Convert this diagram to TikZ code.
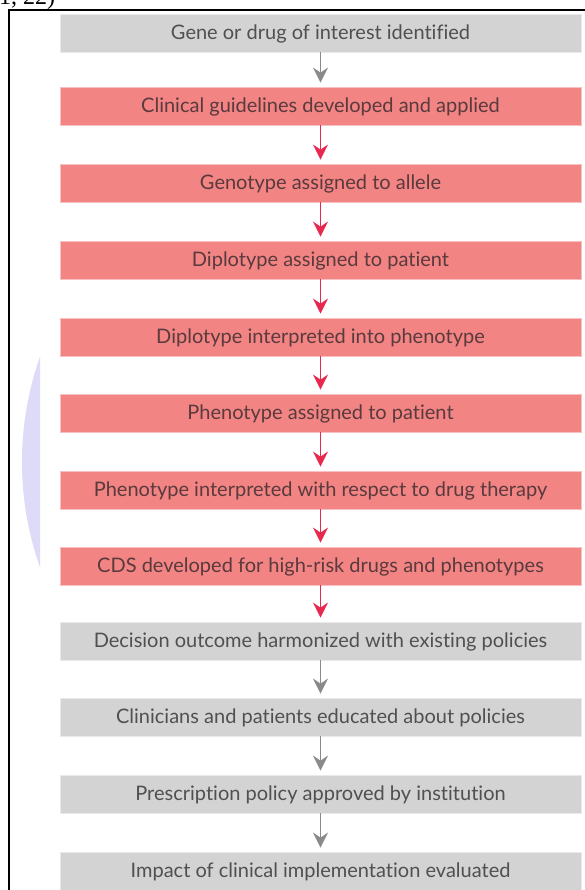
\documentclass[tikz,border=0pt]{standalone}
\usepackage{fontspec}
\setmainfont{Lato}[Ligatures=NoCommon]
\newfontfamily\citefont{Liberation Serif}
\usetikzlibrary{arrows.meta}
\definecolor{gbox}{HTML}{D3D3D3}
\definecolor{rbox}{HTML}{F28484}
\definecolor{garr}{HTML}{8A8A8A}
\definecolor{rarr}{HTML}{E8294F}
\definecolor{gtxt}{HTML}{505050}
\definecolor{rtxt}{HTML}{5A3A3D}
\definecolor{lav}{HTML}{DDDBF8}
\begin{document}
\begin{tikzpicture}[x=1pt,y=-1pt,
  box/.style={rectangle, minimum width=521pt, minimum height=38pt, inner sep=0pt,
    text height=17pt, text depth=4pt, font=\fontsize{20}{24}\selectfont},
  graybox/.style={box, fill=gbox, draw=gbox!50!white, line width=0.8pt, text=gtxt},
  redbox/.style={box, fill=rbox, draw=rbox!50!white, line width=0.8pt, text=rtxt},
  arr/.style={line width=1.6pt, -{Stealth[length=15pt,width=15pt,inset=5pt]}, shorten >=4pt},
  garrow/.style={arr, draw=garr},
  rarrow/.style={arr, draw=rarr}
]
\useasboundingbox (0,0) rectangle (584,890);
\fill[white] (0,0) rectangle (584,890);
% watermark circle
\begin{scope}
  \clip (0,0) rectangle (40,890);
  \fill[lav] (337,462) circle (315);
\end{scope}
% frame
\draw[line width=1.3pt] (9,900) -- (9,10) -- (600,10);
% cut citation text
\node[anchor=base west, inner sep=0pt, font=\citefont\fontsize{24}{28}\selectfont] (cite) at (-1,5) {1, 22)};
% boxes
\node[graybox] (b1)  at (320.5,33)  {Gene or drug of interest identified};
\node[redbox]  (b2)  at (320.5,106) {Clinical guidelines developed and applied};
\node[redbox]  (b3)  at (320.5,183) {Genotype assigned to allele};
\node[redbox]  (b4)  at (320.5,260) {Diplotype assigned to patient};
\node[redbox]  (b5)  at (320.5,337) {Diplotype interpreted into phenotype};
\node[redbox]  (b6)  at (320.5,413) {Phenotype assigned to patient};
\node[redbox]  (b7)  at (320.5,490) {Phenotype interpreted with respect to drug therapy};
\node[redbox]  (b8)  at (320.5,566) {CDS developed for high-risk drugs and phenotypes};
\node[graybox] (b9)  at (320.5,641) {Decision outcome harmonized with existing policies};
\node[graybox] (b10) at (320.5,717) {Clinicians and patients educated about policies};
\node[graybox] (b11) at (320.5,794) {Prescription policy approved by institution};
\node[graybox] (b12) at (320.5,871) {Impact of clinical implementation evaluated};
% arrows
\draw[garrow] (b1.south) -- (b2.north);
\draw[rarrow] (b2.south) -- (b3.north);
\draw[rarrow] (b3.south) -- (b4.north);
\draw[rarrow] (b4.south) -- (b5.north);
\draw[rarrow] (b5.south) -- (b6.north);
\draw[rarrow] (b6.south) -- (b7.north);
\draw[rarrow] (b7.south) -- (b8.north);
\draw[rarrow] (b8.south) -- (b9.north);
\draw[garrow] (b9.south) -- (b10.north);
\draw[garrow] (b10.south) -- (b11.north);
\draw[garrow] (b11.south) -- (b12.north);
\end{tikzpicture}
\end{document}
